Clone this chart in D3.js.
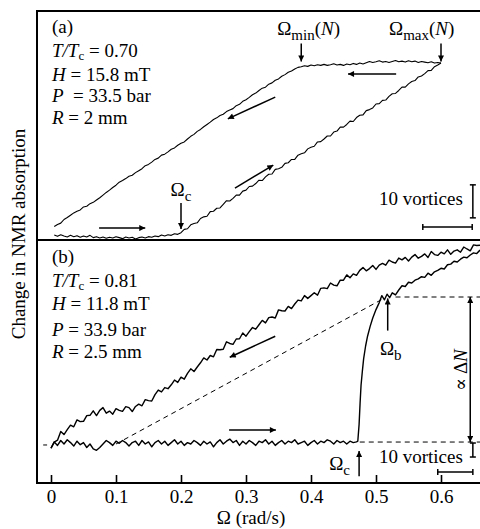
<!DOCTYPE html>
<html>
<head>
<meta charset="utf-8">
<script src="https://cdn.jsdelivr.net/npm/d3@7"></script>
<style>
  body { margin: 0; background: #fff; }
  svg text { font-family: "Liberation Serif", "Times New Roman", Tinos, "Noto Serif", "DejaVu Serif", FreeSerif, serif; fill: #000; }
</style>
</head>
<body>
<div id="chart"></div>
<script>
// ---------------- data ----------------
const omegaTicks = [0, 0.1, 0.2, 0.3, 0.4, 0.5, 0.6];

const panelLabels = ["(a)", "(b)"];
const tOverTc = ["0.70", "0.81"];
const fieldH = ["15.8 mT", "11.8 mT"];
const pressureP = ["33.5 bar", "33.9 bar"];
const radiusR = ["2 mm", "2.5 mm"];

// panel (a): signal in vortices, sampled every 0.005 rad/s from 0.005 to 0.600
const gridA = d3.range(1, 121).map(i => +(i * 0.005).toFixed(3));
const lowerA = [
  0.3, -0.1, 0.4, 0.0, -0.3, 0.2, -0.2, 0.1, -0.4, 0.0,
  -0.3, 0.2, -0.5, -0.2, -0.6, -0.3, -0.7, -0.4, -0.6, -0.2,
  -0.5, -0.8, -0.3, -0.6, -0.4, -0.9, -0.5, -0.3, -0.6, -0.2,
  -0.4, 0.0, -0.2, 0.3, 0.0, 0.4, 0.2, 0.7, 0.5, 1.0,
  2.0, 2.2, 3.4, 3.8, 4.0, 5.3, 5.8, 6.0, 7.4, 7.5,
  8.4, 8.5, 9.6, 10.7, 10.6, 11.4, 12.4, 12.4, 13.6, 13.9,
  15.0, 15.1, 15.9, 16.9, 16.8, 17.9, 18.7, 18.8, 20.2, 20.4,
  20.8, 22.0, 22.2, 23.2, 23.2, 24.5, 24.9, 25.2, 26.4, 26.9,
  27.2, 28.5, 28.6, 29.4, 30.3, 30.3, 31.5, 31.8, 33.0, 33.0,
  33.8, 34.8, 34.7, 35.9, 36.6, 36.7, 38.0, 38.3, 38.8, 40.0,
  40.1, 41.1, 41.2, 42.3, 43.1, 43.2, 44.1, 45.1, 45.1, 46.1,
  46.8, 47.1, 48.2, 48.5, 49.2, 50.1, 50.2, 51.3, 51.8, 52.4
];
const upperA = [
  2.9, 3.5, 3.9, 5.0, 5.6, 6.3, 7.0, 7.5, 7.9, 8.8,
  9.0, 9.8, 10.2, 10.9, 11.6, 12.4, 13.2, 13.9, 14.7, 15.4,
  16.3, 16.8, 17.4, 18.1, 18.4, 19.2, 19.8, 20.4, 21.3, 21.7,
  22.4, 23.2, 23.6, 24.5, 24.8, 25.5, 26.3, 26.7, 27.5, 28.1,
  28.5, 29.4, 30.2, 30.8, 31.7, 32.3, 33.1, 33.8, 34.5, 35.3,
  35.8, 36.5, 36.9, 37.7, 38.2, 38.6, 39.5, 39.9, 40.8, 41.3,
  42.0, 42.8, 43.3, 44.1, 44.8, 45.1, 46.0, 46.4, 47.2, 47.6,
  48.4, 48.9, 49.6, 50.0, 50.6, 51.1, 51.3, 51.6, 51.4, 51.8,
  51.6, 51.9, 51.7, 52.0, 51.7, 51.9, 52.2, 51.8, 52.0, 51.7,
  52.1, 51.9, 52.3, 52.0, 52.4, 52.1, 52.5, 52.9, 52.6, 52.8,
  53.1, 52.7, 52.9, 52.6, 52.9, 53.2, 52.8, 53.0, 52.7, 53.1,
  52.8, 53.0, 52.6, 52.9, 52.7, 52.5, 52.8, 52.4, 52.6, 52.4
];

// panel (b): flat part of the rising sweep, every 0.005 rad/s from 0 to 0.470
const gridBFlat = d3.range(0, 95).map(i => +(i * 0.005).toFixed(3));
const lowerBFlat = [
  -3, 1.5, -1, 2.5, 0, 3, 1, -1.5, 2, -0.5, 1, -2.5, 0, -3.5, -4.5, -2.5, 0, 2.5, 1, -1,
  2, 0.5, 2.5, 1, -1.5, 1, 2, -1, 2.5, 0, 1.5, -2, 1, 2.5, 0, 2, -1, 1, 3, 0,
  2, -1, 1, 0, 2.5, 1, -1, 2, 0, 1.5, -2, 1, 3, 0, 2, 3.5, 1, 2.5, -1, 2,
  0, 2.5, 1, -1, 2, 1, 3, 0, 2, -1, 1, 2.5, 0, 2, 1, 3, 0, 1, 2, -1,
  1, 2.5, 0, 2, 1, 3, 2, 0, 2.5, 1, 2, 0, 2, 1, 1.5
];
// jump at Omega_c and the rest of the rising sweep
const riseOmegaB = [
  0.472, 0.474, 0.4755, 0.477, 0.479, 0.481, 0.484, 0.487, 0.491, 0.495,
  0.5, 0.505, 0.509, 0.513, 0.517, 0.521, 0.525, 0.53, 0.535, 0.54,
  0.545, 0.55, 0.555, 0.56, 0.565, 0.57, 0.575, 0.58, 0.585, 0.59,
  0.595, 0.6, 0.605, 0.61, 0.615, 0.62, 0.625, 0.63, 0.635, 0.64,
  0.645, 0.65, 0.655, 0.66
];
const riseB = [
  2, 14, 29, 42, 52, 61, 70, 77, 84, 90,
  96, 101, 106, 103, 107, 104.5, 108, 106.5, 110, 113,
  112.5, 115.5, 115, 117, 118, 119.5, 119, 122, 120.5, 123,
  124, 125.5, 125, 128, 128.5, 130.5, 130, 132, 133.5, 133,
  135, 136.5, 136, 138.5
];
// falling sweep, every 0.005 rad/s from 0 to 0.660
const gridBUp = d3.range(0, 133).map(i => +(i * 0.005).toFixed(3));
const upperB = [
  -3, 1.3, 2.7, 9, 6.7, 10.3, 13.5, 12.3, 17.2, 16,
  16.2, 20.3, 20.5, 23.7, 20.3, 24, 26, 22, 23.5, 21.3,
  25.2, 24, 23.3, 26.7, 26, 23.2, 26.8, 28.5, 27.3, 31.7,
  31, 30.7, 35.3, 38.5, 37.2, 40.3, 39.5, 42.3, 45.7, 44,
  47.7, 46.3, 50.5, 53.7, 51.8, 55, 58, 61.5, 60, 63.2,
  62.3, 67.5, 67.3, 67.7, 73, 71.8, 71.2, 75, 75.2, 79.3,
  77, 80.3, 83.2, 82, 85.2, 88.3, 86.5, 90.3, 90.7, 90,
  95.8, 95.2, 95, 98.3, 96.7, 100, 102.8, 102.2, 106, 104,
  106, 108, 106.3, 111.2, 111.5, 111, 115, 113.5, 113, 117,
  117, 120.8, 118.7, 121.5, 120.5, 124, 126, 123.7, 125.3, 127.5,
  124.7, 127.8, 129, 127.7, 131.3, 130, 129.2, 132.8, 131.5, 133.3,
  130.7, 133.5, 135.3, 132.7, 134, 135.8, 133.2, 137.5, 135.3, 134.7,
  137, 135.8, 138.7, 135.5, 137.8, 138.7, 137, 140.7, 139.3, 138,
  142.2, 141.8, 142
];

// ---------------- layout ----------------
const W = 480, H = 529;
const frameLeft = 37, frameTop = 11, divider = 240, axisY = 483;
const serif = '"Liberation Serif", "Times New Roman", Tinos, "Noto Serif", "DejaVu Serif", FreeSerif, serif';

const svg = d3.select("#chart").append("svg")
  .attr("width", W)
  .attr("height", H)
  .attr("font-family", serif);

const defs = svg.append("defs");
defs.append("marker")
  .attr("id", "head")
  .attr("viewBox", "0 0 10 10")
  .attr("refX", 10).attr("refY", 5)
  .attr("markerWidth", 10).attr("markerHeight", 6)
  .attr("markerUnits", "userSpaceOnUse")
  .attr("orient", "auto-start-reverse")
  .append("path")
  .attr("d", "M0,0 L10,5 L0,10 z");

// scales
const x = d3.scaleLinear().domain([0, 0.66]).range([51, 480]);
const ya = d3.scaleLinear().domain([0, 10]).range([236, 203]);   // 10 vortices = 33 px
const yb = d3.scaleLinear().domain([0, 10]).range([444, 430]);   // 10 vortices = 14 px

// frame
const frame = svg.append("g")
  .attr("stroke", "#000")
  .attr("stroke-width", 2);
frame.append("line").attr("x1", frameLeft).attr("x2", frameLeft).attr("y1", frameTop - 1).attr("y2", axisY + 1);
frame.append("line").attr("x1", frameLeft).attr("x2", W).attr("y1", frameTop).attr("y2", frameTop);
frame.append("line").attr("x1", frameLeft).attr("x2", W).attr("y1", divider).attr("y2", divider);
frame.append("line").attr("x1", frameLeft).attr("x2", W).attr("y1", axisY).attr("y2", axisY);

// x axis (ticks point inward)
const xAxis = svg.append("g")
  .attr("transform", `translate(0,${axisY})`)
  .call(d3.axisBottom(x)
    .tickValues(omegaTicks)
    .tickSize(-8)
    .tickPadding(7)
    .tickFormat(d => d === 0 ? "0" : d3.format(".1f")(d)));
xAxis.attr("font-family", serif).attr("font-size", 19);
xAxis.select(".domain").remove();
xAxis.selectAll(".tick line").attr("stroke-width", 1.6);
xAxis.selectAll("text")
  .style("font-family", serif)
  .style("font-size", "19px");

svg.append("text")
  .attr("x", 251).attr("y", 524)
  .attr("text-anchor", "middle")
  .style("font-size", "19px")
  .text("Ω  (rad/s)");

svg.append("text")
  .attr("transform", "translate(25,234) rotate(-90)")
  .attr("text-anchor", "middle")
  .style("font-size", "19px")
  .text("Change in NMR absorption");

// ---------------- helpers ----------------
const line = (ys) => d3.line().x(d => x(d[0])).y(d => ys(d[1]));

function trace(ys, om, vals, width) {
  svg.append("path")
    .datum(om.map((o, i) => [o, vals[i]]))
    .attr("fill", "none")
    .attr("stroke", "#000")
    .attr("stroke-width", width)
    .attr("stroke-linejoin", "round")
    .attr("d", line(ys));
}

function arrow(ys, a, b, both) {
  const l = svg.append("line")
    .attr("x1", x(a[0])).attr("y1", ys(a[1]))
    .attr("x2", x(b[0])).attr("y2", ys(b[1]))
    .attr("stroke", "#000")
    .attr("stroke-width", 1.5)
    .attr("marker-end", "url(#head)");
  if (both) l.attr("marker-start", "url(#head)");
}

function dashed(ys, a, b) {
  svg.append("line")
    .attr("x1", x(a[0])).attr("y1", ys(a[1]))
    .attr("x2", x(b[0])).attr("y2", ys(b[1]))
    .attr("stroke", "#000")
    .attr("stroke-width", 1)
    .attr("stroke-dasharray", "5,4");
}

function omegaLabel(xp, yp, sub, withN, anchor) {
  const t = svg.append("text")
    .attr("x", xp).attr("y", yp)
    .attr("text-anchor", anchor || "start")
    .style("font-size", "19px");
  t.append("tspan").text("Ω");
  t.append("tspan").attr("dy", 5).style("font-size", "15px").text(sub);
  if (withN) {
    t.append("tspan").attr("dy", -5).text("(");
    t.append("tspan").style("font-style", "italic").text("N");
    t.append("tspan").text(")");
  }
}

function scaleBar(ys, vx, v0, v1, hv, h0, h1, labelV) {
  const g = svg.append("g").attr("stroke", "#000").attr("stroke-width", 1.5);
  const X = x(vx);
  g.append("line").attr("x1", X).attr("x2", X).attr("y1", ys(v0)).attr("y2", ys(v1));
  [v0, v1].forEach(v => g.append("line").attr("x1", X - 3).attr("x2", X + 3).attr("y1", ys(v)).attr("y2", ys(v)));
  const Y = ys(hv);
  g.append("line").attr("x1", x(h0)).attr("x2", x(h1)).attr("y1", Y).attr("y2", Y);
  [h0, h1].forEach(h => g.append("line").attr("x1", x(h)).attr("x2", x(h)).attr("y1", Y - 3).attr("y2", Y + 3));
  svg.append("text")
    .attr("x", x(vx) - 10).attr("y", ys(labelV))
    .attr("text-anchor", "end")
    .style("font-size", "19px")
    .text("10 vortices");
}

// baselines of the parameter lines, relative to the panel label
const lineOffsets = [[0, 24, 48, 69, 91], [0, 24, 47, 73, 95]];

function params(i, top) {
  const lx = 52, fs = "19px", off = lineOffsets[i];
  svg.append("text").attr("x", lx).attr("y", top + off[0]).style("font-size", fs).text(panelLabels[i]);
  const t1 = svg.append("text").attr("x", lx).attr("y", top + off[1]).style("font-size", fs);
  t1.append("tspan").style("font-style", "italic").text("T/T");
  t1.append("tspan").attr("dy", 3).style("font-size", "13px").text("c");
  t1.append("tspan").attr("dy", -3).text(" = " + tOverTc[i]);
  const t2 = svg.append("text").attr("x", lx).attr("y", top + off[2]).style("font-size", fs);
  t2.append("tspan").style("font-style", "italic").text("H");
  t2.append("tspan").text(" = " + fieldH[i]);
  const t3 = svg.append("text").attr("x", lx).attr("y", top + off[3]).style("font-size", fs);
  t3.append("tspan").style("font-style", "italic").text("P");
  t3.append("tspan").attr("xml:space", "preserve").text(i ? " = " + pressureP[i] : "  = " + pressureP[i]);
  const t4 = svg.append("text").attr("x", lx).attr("y", top + off[4]).style("font-size", fs);
  t4.append("tspan").style("font-style", "italic").text("R");
  t4.append("tspan").text(" = " + radiusR[i]);
}

// ---------------- panel (a) ----------------
trace(ya, gridA, lowerA, 1.1);
trace(ya, gridA, upperA, 1.1);

arrow(ya, [0.074, 2.4], [0.145, 2.4]);
arrow(ya, [0.283, 14.5], [0.342, 21.5]);
arrow(ya, [0.345, 42.1], [0.272, 35.5]);
arrow(ya, [0.531, 49.1], [0.457, 49.1]);

arrow(ya, [0.2, 10], [0.2, 2.1]);
omegaLabel(x(0.2), ya(12.1), "c", false, "middle");
arrow(ya, [0.385, 58.3], [0.385, 52.9]);
omegaLabel(x(0.348), ya(60.9), "min", true);
arrow(ya, [0.6, 58.3], [0.6, 52.9]);
omegaLabel(x(0.52), ya(60.9), "max", true);

scaleBar(ya, 0.649, 5.5, 15.5, 2.7, 0.572, 0.648, 9.4);
params(0, 33);

// ---------------- panel (b) ----------------
dashed(yb, [-0.012, -0.7], [-0.006, -0.7]);
dashed(yb, [0.1, 0], [0.512, 104]);
dashed(yb, [0.53, 105], [0.66, 105]);
dashed(yb, [0.475, 1.4], [0.66, 1.4]);

trace(yb, gridBFlat.concat(riseOmegaB), lowerBFlat.concat(riseB), 1.4);
trace(yb, gridBUp, upperB, 1.4);

arrow(yb, [0.274, 10], [0.346, 10]);
arrow(yb, [0.345, 77], [0.275, 62]);
arrow(yb, [0.518, 81], [0.518, 104]);
omegaLabel(x(0.506), yb(63.6), "b", false);
arrow(yb, [0.474, -23], [0.474, -5]);
omegaLabel(x(0.46), yb(-18.6), "c", false, "end");
arrow(yb, [0.645, 105], [0.645, 1.4], true);

const dn = svg.append("text")
  .attr("transform", `translate(${x(0.64)},${yb(52.9)}) rotate(-90)`)
  .attr("text-anchor", "middle")
  .style("font-size", "19px");
dn.append("tspan").text("∝ Δ");
dn.append("tspan").style("font-style", "italic").text("N");

scaleBar(yb, 0.649, -9.3, 0.7, -20, 0.595, 0.649, -13.6);
params(1, 263);
</script>
</body>
</html>
